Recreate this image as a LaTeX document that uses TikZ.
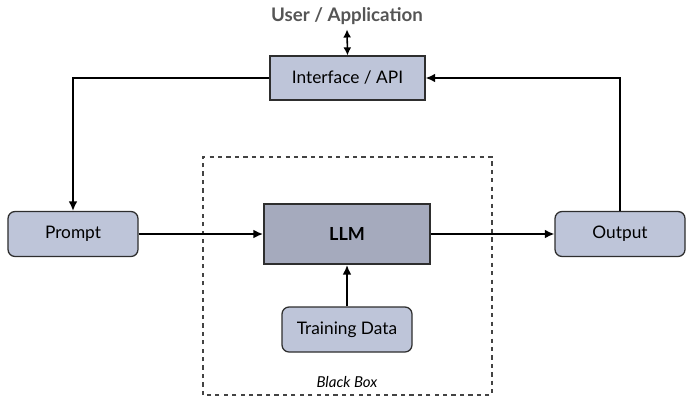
\documentclass[tikz,border=0pt]{standalone}
\usepackage{fontspec}
\setmainfont{Lato}
\usepackage{tikz}
\usetikzlibrary{arrows.meta,positioning}
\definecolor{boxfill}{HTML}{BEC5D9}
\definecolor{llmfill}{HTML}{A5AABD}
\definecolor{edge}{HTML}{2E2E2E}
\definecolor{usergray}{HTML}{555555}
\tikzset{
  rbox/.style={draw=edge,fill=boxfill,line width=0.9pt,rounded corners=5pt,
    minimum width=3.25cm,minimum height=1.125cm,font=\fontsize{12.3}{14}\selectfont},
  sbox/.style={draw=edge,fill=boxfill,line width=0.9pt,
    minimum width=3.875cm,minimum height=1.1cm,font=\fontsize{12.3}{14}\selectfont},
  flow/.style={line width=1.1pt,-{Latex[length=2.4mm,width=2.2mm]}}
}

\begin{document}
\begin{tikzpicture}
  \useasboundingbox (0,0) rectangle (17.325,10.15);
  \draw[edge!90,line width=1pt,dash pattern=on 3pt off 3pt] (5.075,0.275) rectangle (12.3,6.225);
  \node[font=\fontsize{10.7}{12}\selectfont\itshape] (bb) at (8.675,0.6) {Black Box};
  \node[font=\fontsize{13.3}{15}\selectfont\bfseries,text=usergray] (user) at (8.675,9.75) {User / Application};
  \node[sbox] (api) at (8.6875,8.2) {Interface / API};
  \node[rbox] (prompt) at (1.825,4.3) {Prompt};
  \node[draw=edge,fill=llmfill,line width=1.5pt,minimum width=4.15cm,minimum height=1.5cm,
    font=\fontsize{12.8}{15}\selectfont\bfseries] (llm) at (8.675,4.3) {LLM};
  \node[rbox] (output) at (15.5,4.3) {Output};
  \node[rbox] (train) at (8.675,1.9125) {Training Data};
  % connectors
  \draw[line width=1.1pt,{Latex[length=2mm,width=2mm]}-{Latex[length=2mm,width=2mm]}] (user.south) -- (api.north);
  \draw[flow] (api.west) -| (prompt.north);
  \draw[flow] (prompt) -- (llm);
  \draw[flow] (llm) -- (output);
  \draw[flow] (output.north) |- (api.east);
  \draw[flow] (train) -- (llm);
\end{tikzpicture}
\end{document}
